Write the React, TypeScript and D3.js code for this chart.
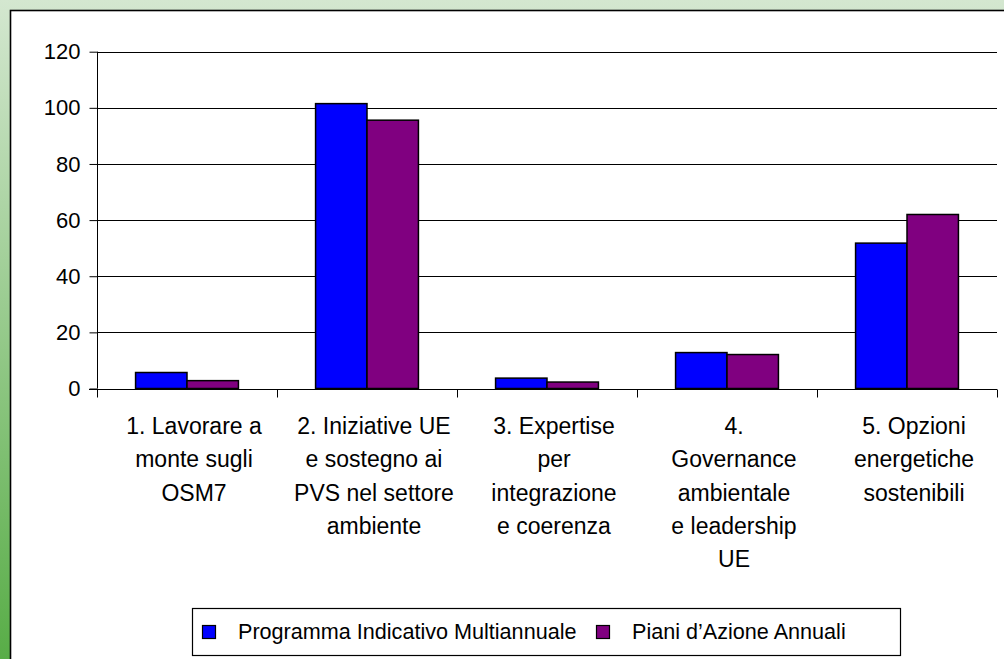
import React, { useRef, useEffect } from 'react';
import * as d3 from 'd3';

const categories = [
  ['1. Lavorare a', 'monte sugli', 'OSM7'],
  ['2. Iniziative UE', 'e sostegno ai', 'PVS nel settore', 'ambiente'],
  ['3. Expertise', 'per', 'integrazione', 'e coerenza'],
  ['4.', 'Governance', 'ambientale', 'e leadership', 'UE'],
  ['5. Opzioni', 'energetiche', 'sostenibili'],
];
const seriesNames = ['Programma Indicativo Multiannuale', 'Piani d\u2019Azione Annuali'];
const seriesColors = ['#0000ff', '#800080'];
const pimValues = [5.7, 101.5, 3.7, 12.8, 51.8];
const paaValues = [2.8, 95.6, 2.3, 12.1, 62];
const yTicks = [0, 20, 40, 60, 80, 100, 120];

const FONT = '"Liberation Sans", Arial, sans-serif';

const App = () => {
  const chartRef = useRef<HTMLDivElement>(null);

  useEffect(() => {
    d3.select(chartRef.current).selectAll('*').remove();
    const width = 1004;
    const height = 659;

    const svg = d3.select(chartRef.current)
      .append('svg')
      .attr('width', width)
      .attr('height', height)
      .style('display', 'block');

    // green frame background
    const grad = svg.append('defs').append('linearGradient')
      .attr('id', 'bg')
      .attr('x1', 0).attr('y1', 0).attr('x2', 0).attr('y2', 1);
    grad.append('stop').attr('offset', '0%').attr('stop-color', '#d4e7d0');
    grad.append('stop').attr('offset', '100%').attr('stop-color', '#58ad47');
    svg.append('rect').attr('width', width).attr('height', height).attr('fill', 'url(#bg)');

    svg.append('rect')
      .attr('x', 10.5).attr('y', 10.5)
      .attr('width', 1100).attr('height', 800)
      .attr('fill', '#fff')
      .attr('stroke', '#000')
      .attr('stroke-width', 1.6);

    const catIdx = categories.map((_, i) => String(i));
    const x = d3.scaleBand().domain(catIdx).range([97, 997]).paddingInner(0).paddingOuter(0);
    const xs = d3.scaleBand().domain(['0', '1']).range([0, x.bandwidth()]).paddingInner(0).paddingOuter(0.75);
    const y = d3.scaleLinear().domain([0, 120]).range([388.5, 51.7]);

    // gridlines
    svg.append('g')
      .selectAll('line')
      .data(yTicks.filter(t => t > 0))
      .join('line')
      .attr('x1', 97).attr('x2', 997)
      .attr('y1', d => Math.round(y(d)) + 0.5)
      .attr('y2', d => Math.round(y(d)) + 0.5)
      .attr('stroke', '#000')
      .attr('stroke-width', 1);

    // bars
    const data = catIdx.flatMap((c, i) => [
      { c, s: '0', v: pimValues[i] },
      { c, s: '1', v: paaValues[i] },
    ]);
    svg.append('g')
      .selectAll('rect')
      .data(data)
      .join('rect')
      .attr('x', d => (x(d.c) as number) + (xs(d.s) as number))
      .attr('y', d => y(d.v))
      .attr('width', xs.bandwidth())
      .attr('height', d => y(0) - y(d.v))
      .attr('fill', d => seriesColors[+d.s])
      .attr('stroke', '#000')
      .attr('stroke-width', 1.5);

    // y axis
    const yAxis = svg.append('g')
      .attr('transform', 'translate(97.5,0)')
      .call(d3.axisLeft(y).tickValues(yTicks).tickSize(8).tickPadding(9));
    yAxis.select('.domain').attr('stroke', '#000').attr('d', `M0,${y(120)}V${y(0)}`);
    yAxis.selectAll('.tick line').attr('stroke', '#000');
    yAxis.selectAll('.tick text')
      .attr('fill', '#000')
      .style('font-family', FONT)
      .style('font-size', '22px');

    // x axis
    const xAxis = svg.append('g')
      .attr('transform', `translate(0,${Math.round(y(0)) + 0.5})`)
      .call(d3.axisBottom(x).tickSize(0).tickFormat(() => ''));
    xAxis.select('.domain').attr('stroke', '#000').attr('d', 'M89,0H997');
    xAxis.selectAll('.tick').remove();
    xAxis.selectAll('line.cat')
      .data(d3.range(categories.length + 1))
      .join('line')
      .attr('class', 'cat')
      .attr('x1', i => 97.5 + i * x.step()).attr('x2', i => 97.5 + i * x.step())
      .attr('y1', 0).attr('y2', 8)
      .attr('stroke', '#000');

    // category labels
    const labels = svg.append('g')
      .selectAll('text')
      .data(categories)
      .join('text')
      .attr('x', (_, i) => (x(String(i)) as number) + x.bandwidth() / 2 + 7)
      .attr('y', 434)
      .attr('text-anchor', 'middle')
      .style('font-family', FONT)
      .style('font-size', '23px');
    labels.selectAll('tspan')
      .data(d => d)
      .join('tspan')
      .attr('x', function () { return (this as any).parentNode.getAttribute('x'); })
      .attr('dy', (_, j) => (j === 0 ? 0 : 33.3))
      .text(d => d);

    // legend
    const lg = svg.append('g');
    lg.append('rect')
      .attr('x', 192.5).attr('y', 608.5)
      .attr('width', 708).attr('height', 47)
      .attr('fill', '#fff').attr('stroke', '#000').attr('stroke-width', 1.2);
    const legendX = [202, 596];
    seriesNames.forEach((name, i) => {
      lg.append('rect')
        .attr('x', legendX[i] + 0.5).attr('y', 625.5)
        .attr('width', 13).attr('height', 13)
        .attr('fill', seriesColors[i])
        .attr('stroke', '#000').attr('stroke-width', 1.2);
      lg.append('text')
        .attr('x', legendX[i] + 36).attr('y', 639)
        .style('font-family', FONT)
        .style('font-size', '21.6px')
        .text(name);
    });
  }, []);

  return <div ref={chartRef} style={{ position: 'absolute', left: 0, top: 0 }} />;
};

export default App;
